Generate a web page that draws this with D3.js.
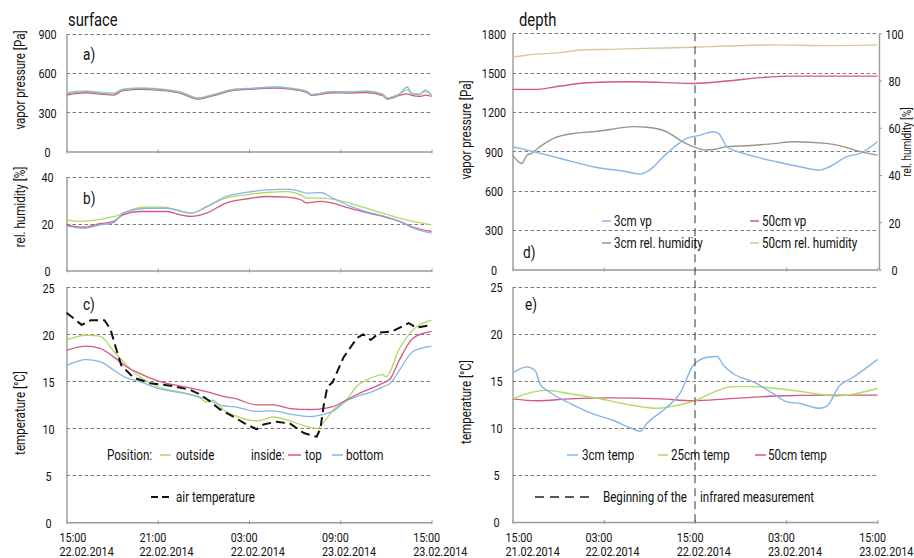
<!DOCTYPE html>
<html>
<head>
<meta charset="utf-8">
<script src="https://cdn.jsdelivr.net/npm/d3@7"></script>
<style>
  body { margin: 0; background: #fff; }
  svg text { font-family: Roboto, "Noto Sans", "DejaVu Sans Condensed", sans-serif; fill: #111; }
</style>
</head>
<body>
<svg id="chart" width="914" height="558"></svg>
<script>
// ---------- time axes (hours since first tick) ----------
const surfaceTickHours = [0, 6, 12, 18, 24];
const surfaceTickTime = ["15:00", "21:00", "03:00", "09:00", "15:00"];
const surfaceTickDate = ["22.02.2014", "22.02.2014", "22.02.2014", "23.02.2014", "23.02.2014"];
const depthTickHours = [0, 12, 24, 36, 48];
const depthTickTime = ["15:00", "03:00", "15:00", "03:00", "15:00"];
const depthTickDate = ["21.02.2014", "22.02.2014", "22.02.2014", "23.02.2014", "23.02.2014"];
const infraredStartHour = 24;

// ---------- value axes ----------
const vpSurfaceTicks = [0, 300, 600, 900];
const rhSurfaceTicks = [0, 20, 40];
const tempTicks = [0, 5, 10, 15, 20, 25];
const vpDepthTicks = [0, 300, 600, 900, 1200, 1500, 1800];
const rhDepthTicks = [0, 20, 40, 60, 80, 100];

// ---------- a) surface vapor pressure [Pa] ----------
const vpOutside = [[0,446],[0.6,458],[1.3,462],[2.2,452],[3.1,446],[3.7,476],[5,486],[6.6,472],[7.5,454],[8.6,410],[9.6,434],[11,476],[12.3,484],[13.6,492],[14.7,484],[15.8,460],[16.1,436],[17.5,458],[18.5,456],[19.7,462],[20.8,438],[21.1,410],[21.9,440],[22.4,470],[22.7,446],[23.2,440],[23.6,456],[24,438]];
const vpTop = [[0,430],[0.6,442],[1.3,448],[2.2,438],[3.1,430],[3.7,464],[5,474],[6.6,462],[7.5,444],[8.6,400],[9.6,424],[11,466],[12.3,476],[13.6,484],[14.7,476],[15.8,450],[16.1,428],[17.5,448],[18.5,446],[19.7,450],[20.8,426],[21.1,402],[21.9,428],[22.4,440],[22.7,428],[23.2,420],[23.6,430],[24,420]];
const vpBottom = [[0,440],[0.6,452],[1.3,456],[2.2,445],[3.1,438],[3.7,472],[5,482],[6.6,468],[7.5,450],[8.6,405],[9.6,430],[11,472],[12.3,482],[13.6,490],[14.7,482],[15.8,456],[16.1,432],[17.5,455],[18.5,452],[19.7,458],[20.8,432],[21.1,398],[21.9,436],[22.4,492],[22.7,440],[23.2,432],[23.6,470],[24,425]];

// ---------- b) surface relative humidity [%] ----------
const rhOutside = [[0,21.6],[0.7,20.9],[2.2,21.8],[3.5,23.7],[4.4,26.1],[5.0,27.0],[6.4,27.0],[7.5,25.1],[8.2,24.4],[9.2,27.2],[10.5,30.8],[11.8,32.2],[13.2,33.2],[14.5,33.6],[15.4,32.2],[15.8,30.8],[16.7,30.8],[17.5,30.4],[18.6,28.7],[19.7,26.5],[20.8,24.4],[21.9,22.3],[22.8,20.9],[24,19.4]];
const rhTop = [[0,19.4],[1.1,18.4],[2.2,19.9],[3.1,20.9],[3.7,23.7],[4.8,25.1],[6.6,25.1],[7.5,23.7],[8.2,23.0],[9.2,24.4],[10.5,28.7],[11.8,30.4],[13.2,31.5],[14.5,31.2],[15.4,30.1],[15.8,28.7],[16.7,29.4],[17.5,28.7],[18.6,26.5],[19.7,24.7],[20.8,23.0],[21.9,20.9],[22.8,18.4],[24,16.6]];
const rhBottom = [[0,19.0],[1.1,18.0],[2.2,19.4],[3.1,20.4],[3.7,24.4],[4.4,25.8],[5.3,26.5],[6.6,26.5],[7.5,25.4],[8.2,24.4],[9.2,27.0],[10.5,31.5],[11.8,33.2],[13.2,34.3],[14.5,34.6],[15.4,33.6],[15.8,32.9],[16.7,33.2],[17.5,30.8],[18.6,27.5],[19.7,25.1],[20.8,23.3],[21.9,20.9],[22.8,18.0],[24,15.9]];

// ---------- c) surface temperature [°C] ----------
const tempOutside = [[0,19.4],[1.3,19.9],[2.2,19.8],[3.1,18.2],[3.9,16.8],[4.8,15.5],[5.9,14.5],[8.1,13.6],[8.8,13.2],[9.2,12.8],[9.6,13.0],[10.3,12.0],[11,11.4],[12.5,10.8],[12.9,10.9],[13.6,11.2],[14.7,10.8],[16.0,10.1],[16.5,10.0],[16.9,10.6],[17.5,11.9],[18.4,13.0],[19.1,14.5],[19.95,15.3],[20.8,15.7],[21.0,15.5],[21.9,18.5],[22.8,20.5],[24,21.5]];
const tempTop = [[0,18.3],[1.3,18.75],[2.2,18.5],[3.1,17.6],[3.9,16.6],[4.8,15.85],[5.9,15.1],[8.1,14.3],[9.2,13.9],[10.3,13.4],[11,13.2],[12.5,12.5],[13.6,12.5],[14.7,12.1],[16.0,12.0],[16.9,12.1],[17.5,12.3],[18.4,13.0],[19.1,13.6],[19.95,14.2],[20.8,14.8],[21.3,15.3],[21.9,17.3],[22.8,19.6],[24,20.3]];
const tempBottom = [[0,16.7],[1.3,17.3],[2.2,17.1],[3.1,16.2],[3.9,15.4],[4.8,15.0],[5.9,14.3],[8.1,13.6],[9.2,13.1],[10.3,12.4],[11,12.3],[12.5,11.8],[13.6,11.85],[14.7,11.5],[16.0,11.25],[16.9,11.5],[17.5,11.8],[18.4,12.9],[19.1,13.4],[19.95,13.8],[20.8,14.4],[21.3,14.8],[21.9,16.2],[22.8,18.2],[24,18.75]];
const airTemp = [[0,22.3],[1,21.0],[1.6,21.5],[2.5,21.5],[2.9,20.5],[3.2,18.8],[3.6,16.7],[4.4,15.4],[5.5,14.8],[7.0,14.5],[8.1,14.1],[8.8,13.6],[9.4,12.9],[10.1,12.0],[11.0,11.2],[11.85,10.4],[12.5,9.9],[12.95,10.4],[13.8,10.7],[14.7,10.5],[15.6,9.5],[16.45,9.1],[16.7,10.0],[16.9,12.3],[17.15,14.4],[17.5,14.9],[18.2,17.5],[19.1,19.6],[19.5,20.0],[20.0,19.4],[20.6,20.2],[21.4,20.3],[22.5,21.2],[23.0,20.7],[24,21.0]];

// ---------- d) depth vapor pressure [Pa] and relative humidity [%] ----------
const vp3cm = [[0,935],[1,923],[2.8,897],[6.3,846],[10.6,783],[15,745],[16.8,727],[17.7,745],[20.3,885],[22.9,999],[24.7,1024],[26.4,1050],[27.1,1037],[28.2,935],[30.4,885],[34.7,821],[37.8,783],[40.4,757],[41.7,783],[43.9,859],[45.7,885],[48,974]];
const vp50cm = [[0,1373],[3.2,1373],[6.3,1398],[9.8,1423],[15,1431],[19.4,1426],[23.8,1418],[28.2,1436],[32.5,1462],[36.9,1474],[41.3,1474],[48,1474]];
const rh3cm = [[0,48.4],[0.8,45.6],[1.2,44.9],[1.9,48.4],[2.5,49.2],[3.6,52.0],[5.4,55.5],[8,57.6],[10.6,58.3],[12.8,59.3],[15.9,60.5],[17.7,60.2],[20.3,58.3],[22,54.8],[23.8,52.0],[25.5,50.6],[26.4,50.8],[28.2,52.0],[30.8,52.4],[34.7,53.4],[36.9,54.1],[41.3,53.4],[43.5,52.0],[45.7,49.9],[48,48.4]];
const rh50cm = [[0,89.8],[1.9,90.8],[6.3,91.8],[8.9,92.9],[12.8,93.2],[17.2,93.6],[23.8,94.1],[28.2,94.6],[34.7,95.1],[41.3,94.8],[48,95.1]];

// ---------- e) depth temperature [°C] ----------
const temp3cm = [[0,15.85],[1.9,16.5],[3,16.1],[3.6,14.7],[4.9,13.8],[7.6,12.6],[10.6,11.5],[13.3,10.8],[15.5,10.0],[16.8,9.65],[17.7,10.5],[20.3,12.2],[22,13.65],[23.8,16.7],[25.5,17.5],[26.9,17.6],[27.7,16.7],[29,15.8],[31.7,14.9],[34.3,13.65],[36,12.8],[37.8,12.6],[40.4,12.1],[41.3,12.3],[43,14.5],[44.8,15.4],[48,17.3]];
const temp25cm = [[0,13.1],[1.9,13.65],[4.5,14.0],[7.6,13.65],[11.5,13.1],[15.9,12.4],[19,12.1],[21.6,12.4],[24,12.9],[26.4,13.8],[29,14.4],[31.7,14.4],[34.7,14.2],[37.8,13.9],[40.4,13.6],[42.6,13.4],[44.8,13.6],[48,14.2]];
const temp50cm = [[0,13.1],[3.2,12.9],[7.6,13.1],[12.8,13.2],[19.4,13.1],[23.8,12.9],[28.2,13.1],[34.7,13.4],[41.3,13.5],[48,13.5]];

// ---------- colours ----------
const C = { blue: "#86b6e6", pink: "#d6577f", green: "#b0da60", grey: "#9b9584", tan: "#dcc59c" };

// horizontal squeeze giving the lettering a condensed look
const SX = 0.8;

const svg = d3.select("#chart");

const xSurf = d3.scaleLinear().domain([0, 24]).range([66.5, 431.5]);
const xDepth = d3.scaleLinear().domain([0, 48]).range([512.5, 877.5]);

const yA = d3.scaleLinear().domain([0, 900]).range([151.5, 33.5]);
const yB = d3.scaleLinear().domain([0, 40]).range([270.5, 176.5]);
const yC = d3.scaleLinear().domain([0, 25]).range([522.3, 287.3]);
const yD = d3.scaleLinear().domain([0, 1800]).range([269.5, 33.3]);
const yDr = d3.scaleLinear().domain([0, 100]).range([269.5, 33.3]);
const yE = d3.scaleLinear().domain([0, 25]).range([522, 287]);

function styleTickText(sel, offset) {
  sel.selectAll("text")
    .attr("x", offset / SX).attr("text-anchor", "middle")
    .attr("dy", "0.36em").attr("transform", `scale(${SX},1)`)
    .style("font-size", "13.5px");
}

function panel(x, y, yTicks, labelX, xTicks) {
  const g = svg.append("g");
  const [x0, x1] = x.range();
  g.selectAll("line.grid").data(yTicks.filter(d => d > 0)).join("line")
    .attr("class", "grid")
    .attr("x1", x0).attr("x2", x1)
    .attr("y1", d => Math.round(y(d)) + 0.5).attr("y2", d => Math.round(y(d)) + 0.5)
    .attr("stroke", "#7d7d7d").attr("stroke-width", 1)
    .attr("stroke-dasharray", "3.5,2.5");

  const ya = g.append("g").attr("transform", `translate(${x0},0)`)
    .call(d3.axisLeft(y).tickValues(yTicks).tickSize(0).tickSizeOuter(0).tickFormat(d3.format("d")));
  ya.attr("font-family", null).attr("font-size", null);
  ya.select(".domain").attr("stroke", "#9a9a9a").attr("stroke-width", 1.4);
  styleTickText(ya, labelX - x0);

  const xa = g.append("g").attr("transform", `translate(0,${y.range()[0]})`)
    .call(d3.axisBottom(x).tickValues(xTicks).tickSizeOuter(0).tickFormat(""));
  xa.select(".domain").attr("stroke", "#9a9a9a").attr("stroke-width", 1.4);
  xa.selectAll(".tick line").attr("y1", -2).attr("y2", 2).attr("stroke", "#9a9a9a");
  return g;
}

function timeLabels(x, ticks, times, dates) {
  const g = svg.append("g");
  const minLeft = x.range()[0] - 7;
  ticks.forEach((h, i) => {
    const t = g.append("text").style("font-size", "13.5px");
    t.append("tspan").attr("x", 0).attr("y", 0).text(times[i]);
    t.append("tspan").attr("x", 0).attr("dy", 14.5).text(dates[i]);
    const w = t.node().getBBox().width * SX;
    let left = x(h) + 9 - w / 2;
    if (left < minLeft) left = minLeft;
    t.attr("transform", `translate(${left},541.5) scale(${SX},1)`);
  });
}

function drawLine(x, y, data, color, width, dash, curve) {
  svg.append("path").datum(data)
    .attr("fill", "none").attr("stroke", color).attr("stroke-width", width)
    .attr("stroke-dasharray", dash || null)
    .attr("stroke-linejoin", "round")
    .attr("d", d3.line().x(d => x(d[0])).y(d => y(d[1])).curve(curve || d3.curveMonotoneX));
}

function text(x, y, s, size, opts = {}) {
  const rot = opts.rotate ? " rotate(-90)" : "";
  const t = svg.append("text")
    .attr("transform", `translate(${x},${y})${rot} scale(${SX},1)`)
    .text(s).style("font-size", size + "px");
  if (opts.rotate) t.attr("text-anchor", "middle").attr("dy", "0.35em");
  return t;
}

function legendLine(x1, x2, y, color, dash, width) {
  svg.append("line").attr("x1", x1).attr("x2", x2).attr("y1", y).attr("y2", y)
    .attr("stroke", color).attr("stroke-width", width || 1.5).attr("stroke-dasharray", dash || null);
}

// ---------- surface column ----------
panel(xSurf, yA, vpSurfaceTicks, 47.5, surfaceTickHours);
panel(xSurf, yB, rhSurfaceTicks, 47.5, surfaceTickHours);
panel(xSurf, yC, tempTicks, 48.5, surfaceTickHours);
timeLabels(xSurf, surfaceTickHours, surfaceTickTime, surfaceTickDate);

drawLine(xSurf, yA, vpOutside, C.green, 1.3);
drawLine(xSurf, yA, vpTop, C.pink, 1.3);
drawLine(xSurf, yA, vpBottom, C.blue, 1.3);

drawLine(xSurf, yB, rhOutside, C.green, 1.3);
drawLine(xSurf, yB, rhTop, C.pink, 1.3);
drawLine(xSurf, yB, rhBottom, C.blue, 1.3);

drawLine(xSurf, yC, tempOutside, C.green, 1.3);
drawLine(xSurf, yC, tempTop, C.pink, 1.3);
drawLine(xSurf, yC, tempBottom, C.blue, 1.3);
drawLine(xSurf, yC, airTemp, "#111", 2, "9,5", d3.curveLinear);

text(68, 26, "surface", 18.5);
text(83, 60, "a)", 17);
text(83, 204, "b)", 17);
text(83, 310, "c)", 17);
text(20, 80, "vapor pressure  [Pa]", 14.5, { rotate: true });
text(20, 207, "rel. humidity [%]", 14.5, { rotate: true });
text(20, 413, "temperature [°C]", 14.5, { rotate: true });

// legend c)
text(107, 460, "Position:", 14.5);
legendLine(160, 171, 455, C.green);
text(176, 460, "outside", 14.5);
text(251, 460, "inside:", 14.5);
legendLine(288, 301, 455, C.pink);
text(305, 460, "top", 14.5);
legendLine(332, 343, 455, C.blue);
text(346, 460, "bottom", 14.5);
legendLine(151, 172, 497, "#111", "7,4", 1.8);
text(176, 502, "air temperature", 14.5);

// ---------- depth column ----------
panel(xDepth, yD, vpDepthTicks, 494, depthTickHours);
panel(xDepth, yE, tempTicks, 496.5, depthTickHours);
timeLabels(xDepth, depthTickHours, depthTickTime, depthTickDate);

// right axis of d)
const ra = svg.append("g").attr("transform", "translate(879,0)")
  .call(d3.axisRight(yDr).tickValues(rhDepthTicks).tickSize(3).tickSizeOuter(0).tickFormat(d3.format("d")));
ra.attr("font-family", null).attr("font-size", null);
ra.select(".domain").attr("stroke", "#9a9a9a").attr("stroke-width", 1.4);
ra.selectAll(".tick line").attr("stroke", "#9a9a9a");
styleTickText(ra, 15.5);

drawLine(xDepth, yDr, rh50cm, C.tan, 1.4);
drawLine(xDepth, yD, vp50cm, C.pink, 1.4);
drawLine(xDepth, yDr, rh3cm, C.grey, 1.4);
drawLine(xDepth, yD, vp3cm, C.blue, 1.4);

drawLine(xDepth, yE, temp50cm, C.pink, 1.4);
drawLine(xDepth, yE, temp25cm, C.green, 1.4);
drawLine(xDepth, yE, temp3cm, C.blue, 1.4);

// start of the infrared measurement
svg.append("line")
  .attr("x1", xDepth(infraredStartHour)).attr("x2", xDepth(infraredStartHour))
  .attr("y1", yD(1800)).attr("y2", yE(0))
  .attr("stroke", "#555").attr("stroke-width", 1.2).attr("stroke-dasharray", "8,5");

text(519, 26, "depth", 18.5);
text(523, 258, "d)", 17);
text(525, 310, "e)", 17);
text(466, 130, "vapor pressure  [Pa]", 14.5, { rotate: true });
text(906.5, 142, "rel. humidity [%]", 12.5, { rotate: true });
text(466, 402, "temperature [°C]", 14.5, { rotate: true });

// legend d)
legendLine(602, 611, 221, C.blue);
text(614, 226, "3cm  vp", 14.5);
legendLine(750, 759, 221, C.pink);
text(762, 226, "50cm  vp", 14.5);
legendLine(602, 611, 243, C.grey);
text(614, 248, "3cm  rel. humidity", 14.5);
legendLine(750, 759, 243, C.tan);
text(762, 248, "50cm  rel. humidity", 14.5);

// legend e)
legendLine(567, 578, 455, C.blue);
text(582, 460, "3cm temp", 14.5);
legendLine(658, 668, 455, C.green);
text(671, 460, "25cm temp", 14.5);
legendLine(755, 766, 455, C.pink);
text(768, 460, "50cm temp", 14.5);
legendLine(535, 590, 497, "#222", "9,6", 1.4);
text(603, 502, "Beginning of the", 14.5);
text(700, 502, "infrared measurement", 14.5);
</script>
</body>
</html>
